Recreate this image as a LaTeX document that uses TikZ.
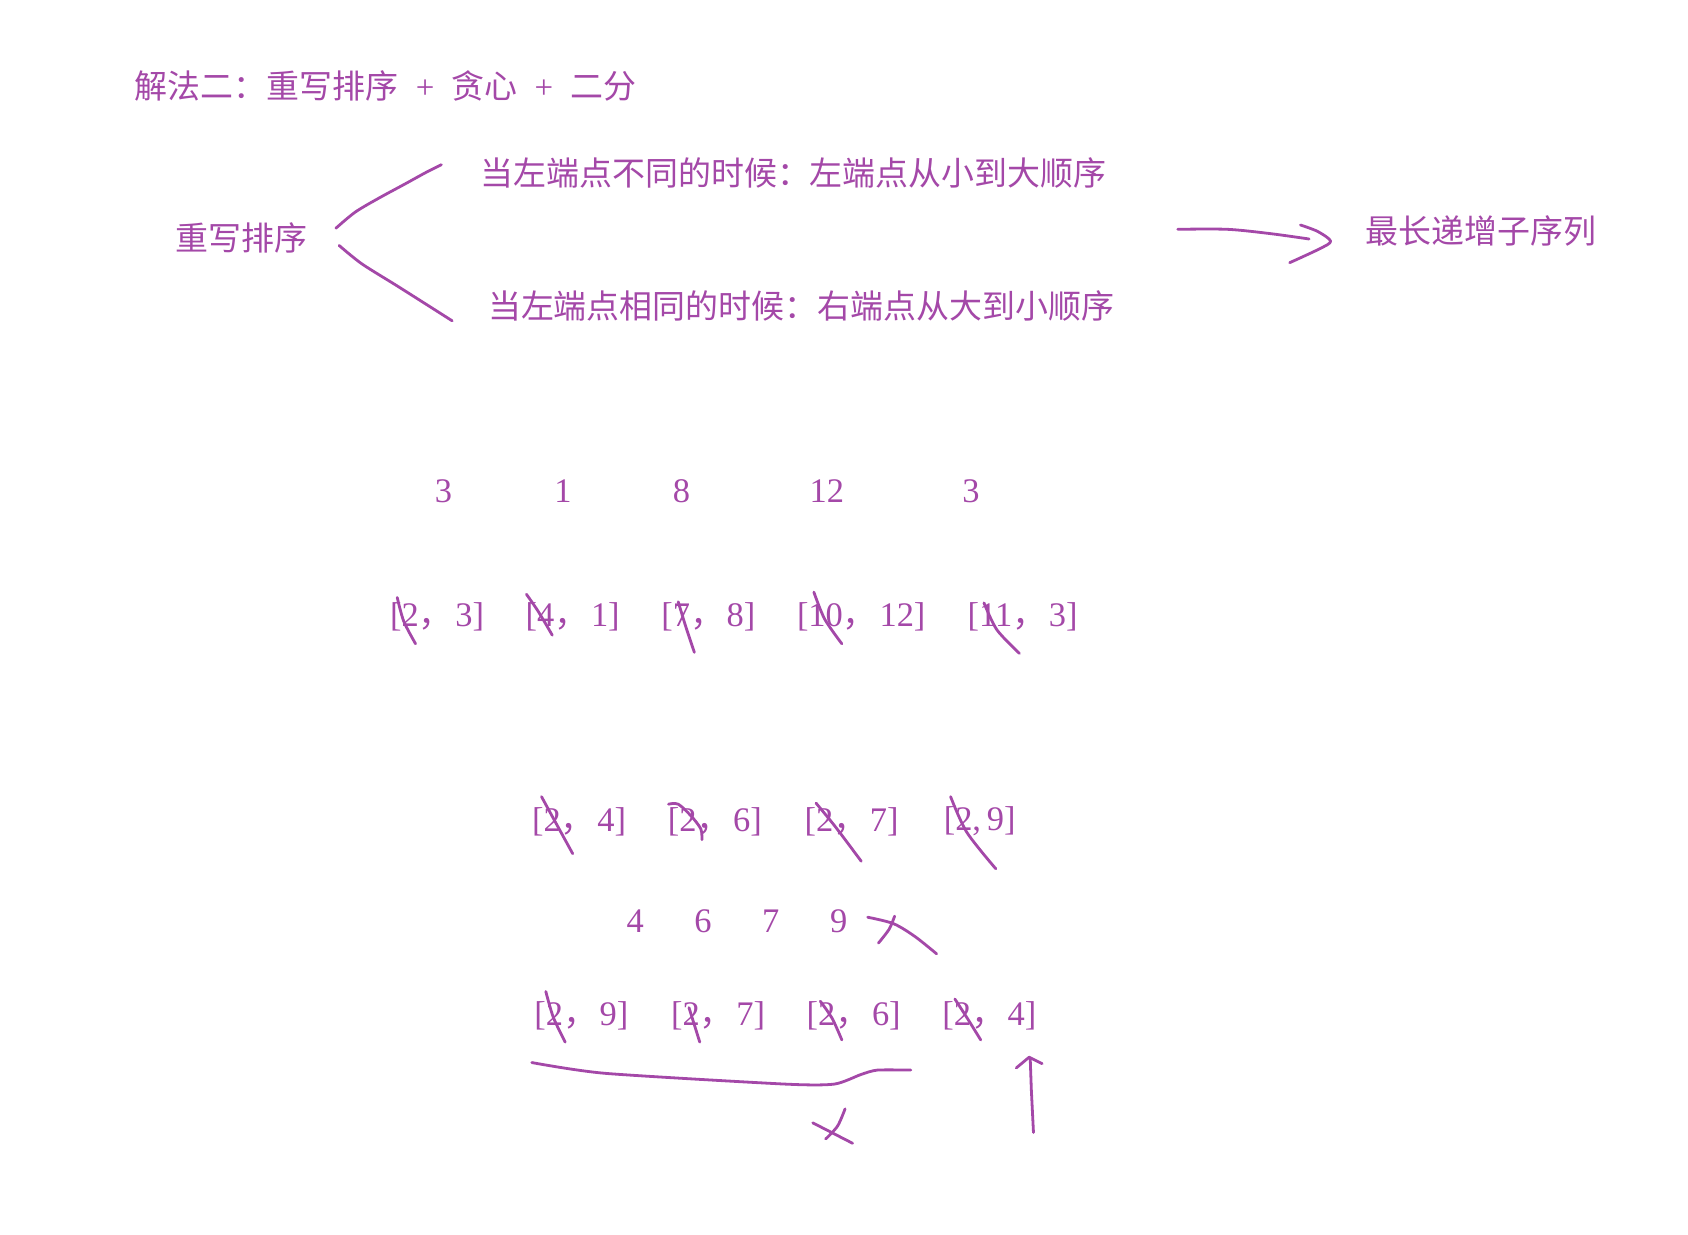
\documentclass[tikz,border=0pt]{standalone}
\usepackage{fontspec}
\setmainfont{Liberation Serif}
\newfontfamily\cjk{Noto Sans CJK SC}
\definecolor{ink}{RGB}{164,72,168}
\newcommand\ivl[2]{[#1{\cjk，}\hspace{1pt}#2]}
\begin{document}
\begin{tikzpicture}[x=0.5pt,y=-0.5pt,
  txt/.style={text=ink, font=\cjk\fontsize{15.3pt}{18pt}\selectfont, inner sep=0pt, anchor=west},
  num/.style={text=ink, font=\fontsize{16pt}{19pt}\selectfont, inner sep=0pt},
  pen/.style={draw=ink, line width=1.3pt, line cap=round, line join=round}]
\useasboundingbox[fill=white] (0,0) rectangle (1568,1147);

% texts
\node[txt] (title) at (125,80) {解法二：重写排序\hspace{8pt}{\rmfamily +}\hspace{8pt}贪心\hspace{8pt}{\rmfamily +}\hspace{8pt}二分};
\node[txt] (sort) at (163,221) {重写排序};
\node[txt] (b1) at (446,161) {当左端点不同的时候：左端点从小到大顺序};
\node[txt] (b2) at (453,284) {当左端点相同的时候：右端点从大到小顺序};
\node[txt] (lis) at (1268,215) {最长递增子序列};

% branch strokes
\draw[pen] plot[smooth] coordinates {(312,212) (330,197) (352,184) (376,171) (396,160) (410,153)};
\draw[pen] plot[smooth] coordinates {(315,228) (336,245) (368,265) (398,284) (420,298)};
% arrow to LIS
\draw[pen] plot[smooth] coordinates {(1094,213) (1140,213) (1180,217) (1216,222)};
\draw[pen] plot[smooth] coordinates {(1208,209) (1224,215) (1236,224) (1226,231) (1198,244)};

% row 1 numbers
\node[num] (n1) at (412,456) {3};
\node[num] (n2) at (523,456) {1};
\node[num] (n3) at (633,456) {8};
\node[num] (n4) at (768,456) {12};
\node[num] (n5) at (902,456) {3};

% row 2 intervals
\node[num] (a1) at (406,573) {\ivl{2}{3}};
\node[num] (a2) at (532,573) {\ivl{4}{1}};
\node[num] (a3) at (658,573) {\ivl{7}{8}};
\node[num] (a4) at (800,573) {\ivl{10}{12}};
\node[num] (a5) at (950,573) {\ivl{11}{3}};
\draw[pen] plot[smooth] coordinates {(369,555) (375,577) (386,598)};
\draw[pen] plot[smooth] coordinates {(489,552) (500,568) (513,590)};
\draw[pen] plot[smooth] coordinates {(630,559) (637,582) (645,606)};
\draw[pen] plot[smooth] coordinates {(756,550) (766,575) (782,598)};
\draw[pen] plot[smooth] coordinates {(914,560) (926,585) (947,607)};

% row 3 intervals
\node[num] (c1) at (538,763) {\ivl{2}{4}};
\node[num] (c2) at (664,763) {\ivl{2}{6}};
\node[num] (c3) at (791,763) {\ivl{2}{7}};
\node[num] (c4) at (910,763) {[2,\,9]};
\draw[pen] plot[smooth] coordinates {(503,740) (515,762) (532,793)};
\draw[pen] plot[smooth] coordinates {(621,747) (630,747) (642,758) (651,770) (652,780)};
\draw[pen] plot[smooth] coordinates {(758,746) (776,768) (800,800)};
\draw[pen] plot[smooth] coordinates {(883,740) (898,773) (925,807)};

% row 4 numbers
\node[num] (d1) at (590,856) {4};
\node[num] (d2) at (653,856) {6};
\node[num] (d3) at (716,856) {7};
\node[num] (d4) at (779,856) {9};
\draw[pen] plot[smooth] coordinates {(806,852) (830,858) (850,870) (870,886)};
\draw[pen] plot[smooth] coordinates {(831,851) (826,863) (816,876)};

% row 5 intervals
\node[num] (e1) at (540,944) {\ivl{2}{9}};
\node[num] (e2) at (667,944) {\ivl{2}{7}};
\node[num] (e3) at (793,944) {\ivl{2}{6}};
\node[num] (e4) at (919,944) {\ivl{2}{4}};
\draw[pen] plot[smooth] coordinates {(507,921) (514,945) (525,968)};
\draw[pen] plot[smooth] coordinates {(640,936) (645,952) (650,968)};
\draw[pen] plot[smooth] coordinates {(762,930) (773,946) (782,966)};
\draw[pen] plot[smooth] coordinates {(887,928) (898,945) (911,966)};

% brace line and marks
\draw[pen] plot[smooth, tension=0.4] coordinates {(494,987) (562,997) (729,1007) (775,1007) (800,998) (815,994) (846,994)};
\draw[pen] (755,1043) -- (792,1062);
\draw[pen] plot[smooth] coordinates {(785,1030) (778,1046) (767,1058)};
\draw[pen] (960,1052) -- (958,1012) -- (957,984);
\draw[pen] (944,992) -- (956,982) -- (968,988);
\end{tikzpicture}
\end{document}
